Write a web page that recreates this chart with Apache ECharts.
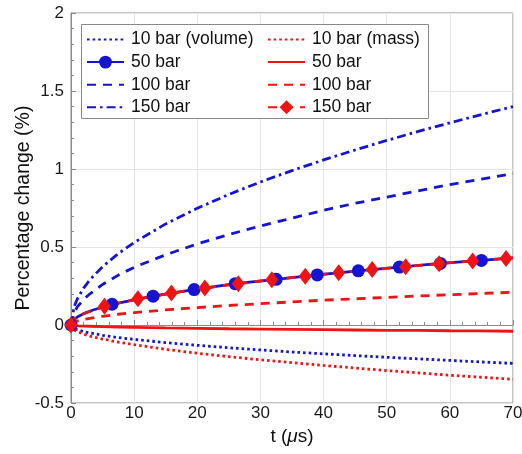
<!DOCTYPE html>
<html>
<head>
<meta charset="utf-8">
<script src="https://cdn.jsdelivr.net/npm/echarts@6/dist/echarts.min.js"></script>
<style>
  html, body { margin: 0; padding: 0; background: #fff; }
  #chart { width: 522px; height: 454px; }
</style>
</head>
<body>
<div id="chart"></div>
<script>
// time grid (us) shared by the curves without markers
const tFine = [0, 0.5, 1, 2, 3, 5, 7.5, 10, 15, 20, 25, 30, 35, 40, 45, 50, 55, 60, 65, 70]
const vol10 = [0, -0.021, -0.03, -0.042, -0.051, -0.066, -0.081, -0.092, -0.113, -0.13, -0.146, -0.16, -0.173, -0.185, -0.196, -0.207, -0.217, -0.227, -0.237, -0.246]
const vol100 = [0, 0.08, 0.116, 0.164, 0.2, 0.26, 0.32, 0.37, 0.45, 0.52, 0.58, 0.635, 0.685, 0.735, 0.78, 0.82, 0.86, 0.9, 0.935, 0.97]
const vol150 = [0, 0.118, 0.167, 0.237, 0.29, 0.374, 0.458, 0.529, 0.648, 0.748, 0.837, 0.917, 0.99, 1.058, 1.122, 1.183, 1.241, 1.296, 1.349, 1.4]
const mass10 = [0, -0.03, -0.042, -0.059, -0.071, -0.09, -0.11, -0.126, -0.156, -0.181, -0.203, -0.223, -0.241, -0.259, -0.276, -0.292, -0.307, -0.322, -0.335, -0.348]
const mass50 = [0, -0.003, -0.005, -0.007, -0.008, -0.011, -0.013, -0.015, -0.019, -0.021, -0.024, -0.026, -0.028, -0.03, -0.032, -0.034, -0.035, -0.037, -0.038, -0.04]
const mass100 = [0, 0.018, 0.025, 0.036, 0.043, 0.056, 0.069, 0.079, 0.097, 0.112, 0.125, 0.137, 0.148, 0.159, 0.168, 0.177, 0.186, 0.194, 0.202, 0.21]

// curves with markers
const tVol50 = [0, 0.5, 1, 2, 3.5, 6.5, 13, 19.5, 26, 32.5, 39, 45.5, 52, 58.5, 65, 70]
const vol50 = [0, 0.036, 0.051, 0.073, 0.096, 0.133, 0.185, 0.227, 0.265, 0.293, 0.321, 0.347, 0.371, 0.395, 0.414, 0.43]
const vol50Marks = [0, 6.5, 13, 19.5, 26, 32.5, 39, 45.5, 52, 58.5, 65]
const tMass150 = [0, 0.5, 1, 2.5, 5.3, 10.6, 15.9, 21.2, 26.5, 31.8, 37.1, 42.4, 47.7, 53, 58.3, 63.6, 68.9, 70]
const mass150 = [0, 0.037, 0.052, 0.08, 0.12, 0.168, 0.205, 0.237, 0.265, 0.29, 0.313, 0.335, 0.355, 0.374, 0.393, 0.41, 0.427, 0.43]
const mass150Marks = [0, 5.3, 10.6, 15.9, 21.2, 26.5, 31.8, 37.1, 42.4, 47.7, 53, 58.3, 63.6, 68.9]

const xTicks = [0, 70, 10]
const yTicks = [-0.5, 2, 0.5]

const BLUE = '#1414d2'
const RED = '#ee1414'
const FONT = 'Liberation Sans'
const NOFILL = 'rgba(0,0,0,0)'

function pts (ts, vs, marks) {
  return ts.map((t, i) => {
    let item = { value: [t, vs[i]] }
    if (!marks || marks.indexOf(t) < 0) item.symbol = 'none'
    return item
  })
}

function curve (name, ts, vs, color, dash, extra) {
  return Object.assign({
    name: name,
    type: 'line',
    data: pts(ts, vs, null),
    symbol: 'none',
    showSymbol: true,
    smooth: false,
    lineStyle: { color: color, width: 2.8, type: dash },
    // no markers on these: keep the legend symbol invisible
    itemStyle: { color: NOFILL, borderWidth: 0 },
    emphasis: { disabled: true }
  }, extra || {})
}

const dotted = [2.6, 3]
const dashed = [9, 7]
const dashDot = [9, 4, 2.6, 4]

let myChart = echarts.init(document.getElementById('chart'))

const legendText = { fontFamily: FONT, fontSize: 17.5, color: '#111', lineHeight: 15, padding: [0, 0, 0, 2] }

myChart.setOption({
  animation: false,
  backgroundColor: '#fff',
  grid: {
    left: 71,
    right: 9,
    top: 13,
    bottom: 51,
    outerBoundsMode: 'none',
    show: true,
    borderColor: '#8a8a8a',
    borderWidth: 1
  },
  graphic: [{
    type: 'rect',
    z: 3,
    shape: { x: 81.5, y: 24.5, width: 347, height: 94 },
    style: { fill: '#fff', stroke: '#888', lineWidth: 1 }
  }],
  legend: [{
    orient: 'vertical',
    left: 86,
    top: 30.5,
    padding: 0,
    itemWidth: 37,
    itemHeight: 16,
    itemGap: 4.6,
    selectedMode: false,
    textStyle: legendText,
    data: ['10 bar (volume)', '50 bar', '100 bar', '150 bar']
  }, {
    orient: 'vertical',
    left: 267,
    top: 30.5,
    padding: 0,
    itemWidth: 37,
    itemHeight: 17.5,
    itemGap: 4.6,
    selectedMode: false,
    textStyle: legendText,
    data: ['10 bar (mass)', '50 bar ', '100 bar ', '150 bar ']
  }],
  xAxis: {
    type: 'value',
    min: xTicks[0],
    max: xTicks[1],
    interval: xTicks[2],
    name: 't ({i|μ}s)',
    nameLocation: 'middle',
    nameGap: 24,
    nameTextStyle: {
      fontFamily: FONT, fontSize: 19, color: '#111',
      rich: { i: { fontFamily: FONT, fontSize: 19, fontStyle: 'italic', color: '#111' } }
    },
    axisLine: { lineStyle: { color: '#8a8a8a', width: 1 } },
    axisTick: { inside: true, length: 5, lineStyle: { color: '#8a8a8a' } },
    minorTick: { show: true, splitNumber: 5, length: 3, lineStyle: { color: '#8a8a8a' } },
    axisLabel: { fontFamily: FONT, fontSize: 17, color: '#1a1a1a', margin: 2 },
    splitLine: { show: true, lineStyle: { color: '#e4e4e4' } }
  },
  yAxis: {
    type: 'value',
    min: yTicks[0],
    max: yTicks[1],
    interval: yTicks[2],
    name: 'Percentage change (%)',
    nameLocation: 'middle',
    nameGap: 37,
    nameMoveOverlap: false,
    nameTextStyle: { fontFamily: FONT, fontSize: 19.5, color: '#111' },
    axisLine: { show: true, lineStyle: { color: '#8a8a8a', width: 1 } },
    axisTick: { show: true, inside: true, length: 5, lineStyle: { color: '#8a8a8a' } },
    minorTick: { show: true, splitNumber: 5, length: 3, lineStyle: { color: '#8a8a8a' } },
    axisLabel: { fontFamily: FONT, fontSize: 17, color: '#1a1a1a', margin: 7 },
    splitLine: { show: true, lineStyle: { color: '#e4e4e4' } }
  },
  series: [
    curve('10 bar (volume)', tFine, vol10, BLUE, dotted),
    curve('50 bar', tVol50, vol50, BLUE, 'solid', {
      data: pts(tVol50, vol50, vol50Marks),
      symbol: 'circle',
      symbolSize: 13,
      itemStyle: { color: BLUE }
    }),
    curve('100 bar', tFine, vol100, BLUE, dashed),
    curve('150 bar', tFine, vol150, BLUE, dashDot),
    curve('10 bar (mass)', tFine, mass10, RED, dotted),
    curve('50 bar ', tFine, mass50, RED, 'solid'),
    curve('100 bar ', tFine, mass100, RED, dashed),
    curve('150 bar ', tMass150, mass150, RED, dashed, {
      data: pts(tMass150, mass150, mass150Marks),
      symbol: 'diamond',
      symbolSize: [13, 17],
      itemStyle: { color: RED }
    })
  ]
})
</script>
</body>
</html>
